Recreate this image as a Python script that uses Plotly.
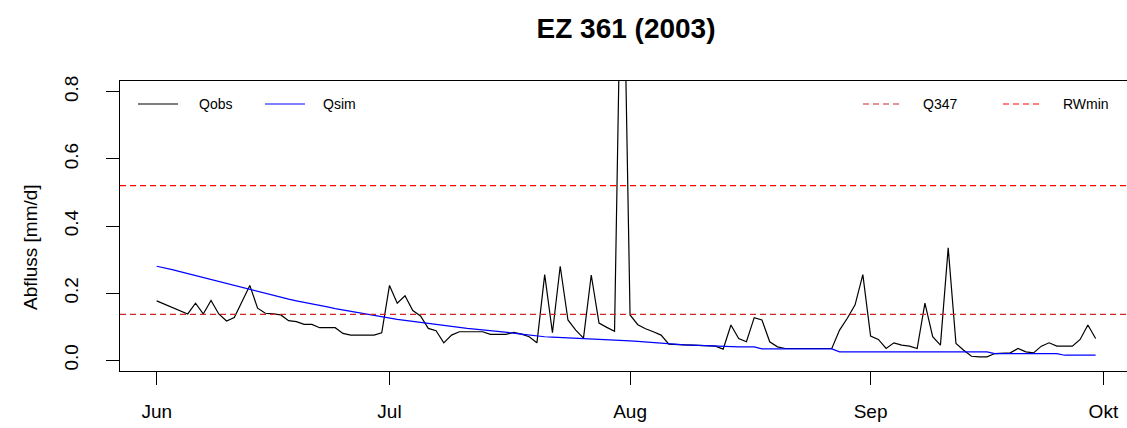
import pandas as pd
import plotly.graph_objects as go

dates = pd.date_range("2003-06-01", periods=122, freq="D")

qobs = [
    0.177, 0.167, 0.157, 0.148, 0.138, 0.170, 0.138, 0.178, 0.138, 0.117,
    0.127, 0.175, 0.223, 0.155, 0.140, 0.138, 0.135, 0.118, 0.115, 0.107,
    0.107, 0.097, 0.097, 0.097, 0.080, 0.075, 0.075, 0.075, 0.075, 0.082,
    0.223, 0.170, 0.192, 0.148, 0.132, 0.095, 0.088, 0.052, 0.075, 0.085,
    0.085, 0.085, 0.085, 0.077, 0.077, 0.077, 0.083, 0.078, 0.070, 0.052,
    0.255, 0.082, 0.280, 0.120, 0.090, 0.066, 0.254, 0.111, 0.098, 0.086,
    1.450, 0.135, 0.106, 0.094, 0.085, 0.075, 0.048, 0.046, 0.046, 0.045,
    0.044, 0.043, 0.042, 0.033, 0.105, 0.065, 0.055, 0.127, 0.120, 0.055,
    0.040, 0.035, 0.035, 0.035, 0.035, 0.035, 0.035, 0.035, 0.090, 0.125,
    0.165, 0.255, 0.072, 0.062, 0.035, 0.052, 0.045, 0.042, 0.035, 0.170,
    0.070, 0.045, 0.335, 0.050, 0.030, 0.012, 0.010, 0.010, 0.020, 0.022,
    0.022, 0.035, 0.025, 0.022, 0.042, 0.052, 0.042, 0.042, 0.042, 0.062,
    0.105, 0.065,
]

qsim = [
    0.280, 0.276, 0.270, 0.264, 0.258, 0.253, 0.247, 0.242, 0.236, 0.230,
    0.222, 0.216, 0.210, 0.205, 0.199, 0.193, 0.187, 0.182, 0.177, 0.173,
    0.168, 0.163, 0.159, 0.154, 0.150, 0.145, 0.141, 0.136, 0.132, 0.128,
    0.125, 0.122, 0.119, 0.116, 0.112, 0.109, 0.105, 0.103, 0.100, 0.098,
    0.095, 0.093, 0.091, 0.088, 0.086, 0.084, 0.081, 0.078, 0.075, 0.072,
    0.070, 0.069, 0.068, 0.067, 0.066, 0.065, 0.064, 0.063, 0.062, 0.062,
    0.061, 0.058, 0.056, 0.054, 0.052, 0.050, 0.048, 0.047, 0.046, 0.045,
    0.044, 0.043, 0.042, 0.040, 0.040, 0.040, 0.040, 0.040, 0.034, 0.034,
    0.034, 0.034, 0.034, 0.034, 0.034, 0.034, 0.034, 0.034, 0.025, 0.025,
    0.025, 0.025, 0.025, 0.025, 0.025, 0.025, 0.025, 0.025, 0.025, 0.025,
    0.025, 0.025, 0.025, 0.025, 0.025, 0.025, 0.025, 0.025, 0.020, 0.020,
    0.020, 0.020, 0.020, 0.020, 0.020, 0.020, 0.020, 0.015, 0.015, 0.015,
    0.015, 0.015,
]

q347 = 0.137
rwmin = 0.52

tick_dates = ["2003-06-01", "2003-07-01", "2003-08-01", "2003-09-01", "2003-10-01"]
tick_labels = ["Jun", "Jul", "Aug", "Sep", "Okt"]
y_ticks = [0.0, 0.2, 0.4, 0.6, 0.8]
y_labels = ["0.0", "0.2", "0.4", "0.6", "0.8"]

W, H = 1127, 428
L, R, T, B = 120, 0, 81, 57
pw, ph = W - L - R, H - T - B

def px(xp):
    return (xp - L) / pw

def py(yp):
    return (H - B - yp) / ph

FONT = "Liberation Sans, Arial, sans-serif"

fig = go.Figure()
fig.add_trace(go.Scatter(x=dates, y=qobs, mode="lines", line=dict(color="black", width=1.2),
                         name="Qobs", showlegend=False))
fig.add_trace(go.Scatter(x=dates, y=qsim, mode="lines", line=dict(color="#0000FF", width=1.2),
                         name="Qsim", showlegend=False))

fig.add_shape(type="line", xref="paper", x0=0, x1=1, yref="y", y0=q347, y1=q347,
              line=dict(color="#CD2626", width=1.2, dash="6px,4px"))
fig.add_shape(type="line", xref="paper", x0=0, x1=1, yref="y", y0=rwmin, y1=rwmin,
              line=dict(color="#FF0000", width=1.2, dash="6px,4px"))

# manual legend (R style)
leg_y = py(104)
legend_items = [
    ("Qobs", "black", "solid", 138, 178, 197),
    ("Qsim", "#0000FF", "solid", 265, 305, 321),
    ("Q347", "#CD2626", "6px,4px", 863, 903, 921),
    ("RWmin", "#FF0000", "6px,4px", 1003, 1043, 1061),
]
for name, col, dash, x0, x1, xt in legend_items:
    fig.add_shape(type="line", xref="paper", yref="paper", x0=px(x0), x1=px(x1), y0=leg_y, y1=leg_y,
                  line=dict(color=col, width=1.2, dash=dash))
    fig.add_annotation(xref="paper", yref="paper", x=px(xt), y=leg_y, text=name, showarrow=False,
                       xanchor="left", yanchor="middle", font=dict(family=FONT, size=14, color="black"))

fig.add_annotation(xref="paper", yref="paper", x=px(30), y=py(247), text="Abfluss [mm/d]",
                   textangle=-90, showarrow=False, xanchor="center", yanchor="middle",
                   font=dict(family=FONT, size=19, color="black"))

fig.update_layout(
    width=W, height=H,
    margin=dict(l=L, r=R, t=T, b=B, pad=0),
    paper_bgcolor="white", plot_bgcolor="white",
    title=dict(text="<b>EZ 361 (2003)</b>", xref="paper", x=px(626), xanchor="center",
               yref="container", y=1 - 28 / H, yanchor="middle",
               font=dict(family=FONT, size=28, color="black")),
    xaxis=dict(
        type="date",
        range=["2003-05-27 06:30", "2003-10-04 01:00"],
        tickmode="array", tickvals=tick_dates, ticktext=tick_labels,
        ticks="outside", ticklen=13, tickwidth=1, tickcolor="black",
        showline=True, linecolor="black", linewidth=1, mirror=True,
        showgrid=False, zeroline=False,
        tickfont=dict(family=FONT, size=19, color="black"),
        ticklabelstandoff=10,
    ),
    yaxis=dict(
        range=[-0.032, 0.832],
        tickmode="array", tickvals=y_ticks, ticktext=y_labels,
        ticks="outside", ticklen=13, tickwidth=1, tickcolor="black",
        showline=True, linecolor="black", linewidth=1, mirror=True,
        showgrid=False, zeroline=False, tickangle=-90,
        tickfont=dict(family=FONT, size=19, color="black"),
        ticklabelstandoff=20,
    ),
)

fig.write_html("out.html")
